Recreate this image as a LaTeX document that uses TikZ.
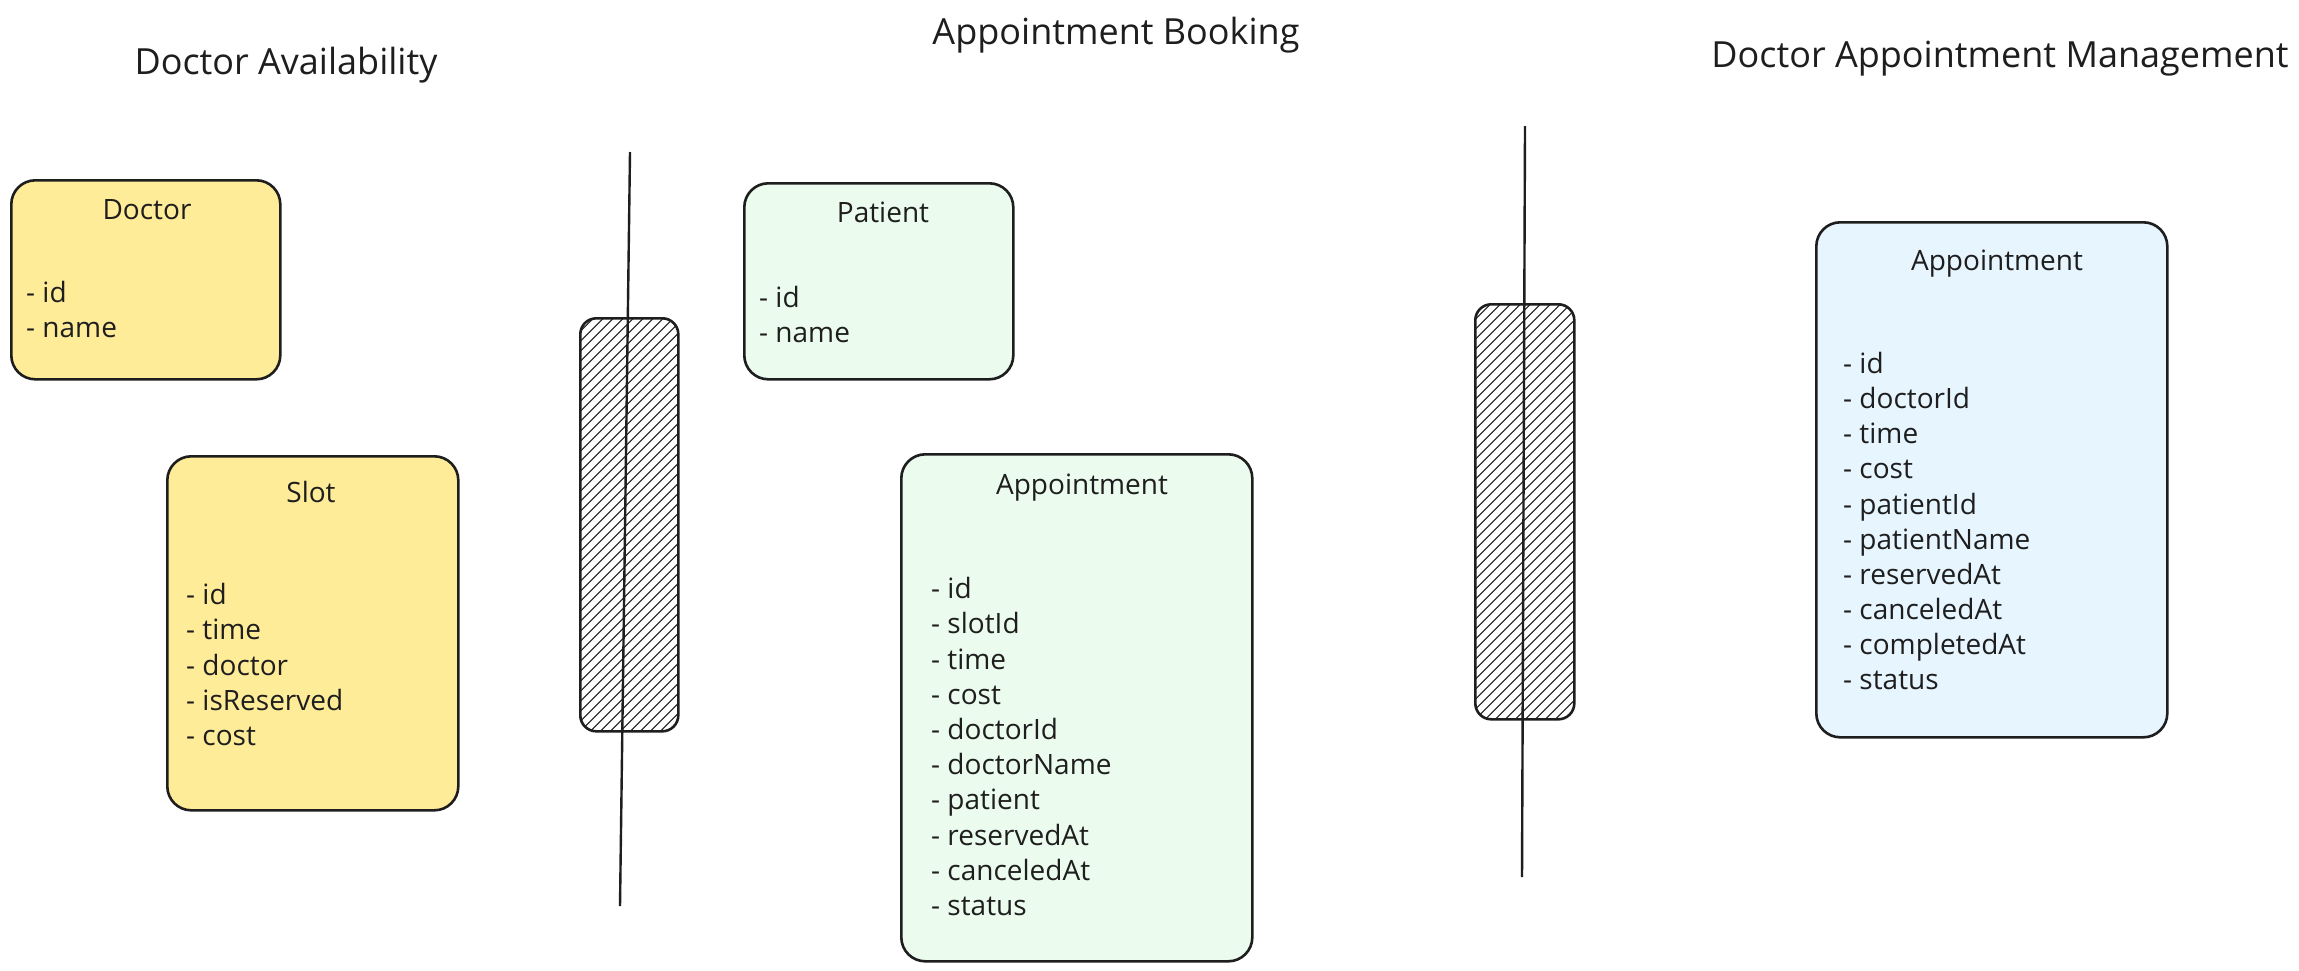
\documentclass[tikz,border=0pt]{standalone}
\usepackage{fontspec}
\setmainfont{Open Sans}
\definecolor{stroke}{HTML}{1E1E1E}
\definecolor{yellowfill}{HTML}{FFEC99}
\definecolor{greenfill}{HTML}{EBFBEE}
\definecolor{bluefill}{HTML}{E7F5FF}
\begin{document}
\begin{tikzpicture}[x=1pt,y=-1pt,
  entity/.style={draw=stroke, line width=2.6pt, rounded corners=24pt, anchor=north west, inner sep=0pt},
  ybox/.style={entity, fill=yellowfill},
  gbox/.style={entity, fill=greenfill},
  bbox/.style={entity, fill=bluefill},
  hatchbox/.style={draw=stroke, line width=2.6pt, rounded corners=16pt, anchor=north west, inner sep=0pt, fill=white,
    path picture={\foreach \k in {0,10,...,540}{\draw[stroke, line width=1.2pt] ([xshift=\k pt-430pt]path picture bounding box.south west) -- ++(440,-440);}}},
  divider/.style={draw=stroke, line width=2.4pt},
  heading/.style={font=\fontsize{36}{40}\selectfont, text=stroke, inner sep=0pt, yshift=-3pt},
  boxtitle/.style={font=\fontsize{28}{34}\selectfont, text=stroke, inner sep=0pt, text height=0.72em, text depth=0.2em, yshift=-7pt},
  item/.style={font=\fontsize{28}{34}\selectfont, text=stroke, inner sep=0pt, anchor=west, text height=0.72em, text depth=0.2em, yshift=-7pt}
]
\useasboundingbox[fill=white] (0,0) rectangle (2299,970);

% headings
\node[heading] (h1) at (286,62) {Doctor Availability};
\node[heading] (h2) at (1116,32) {Appointment Booking};
\node[heading] (h3) at (2000,56) {Doctor Appointment Management};

% hatched separators
\node[hatchbox, minimum width=98pt, minimum height=413pt] (sep1) at (579,317) {};
\node[hatchbox, minimum width=99pt, minimum height=415pt] (sep2) at (1474,303) {};

% Doctor
\node[ybox, minimum width=269pt, minimum height=199pt] (doctor) at (10,179) {};
\node[boxtitle] (doctorT) at (147,210) {Doctor};
\node[item] (d1) at (26,293) {- id};
\node[item] (d2) at (26,328) {- name};

% Slot
\node[ybox, minimum width=291pt, minimum height=354pt] (slot) at (166,455) {};
\node[boxtitle] (slotT) at (311,493) {Slot};
\node[item] (s1) at (186,595) {- id};
\node[item] (s2) at (186,630) {- time};
\node[item] (s3) at (186,666) {- doctor};
\node[item] (s4) at (186,701) {- isReserved};
\node[item] (s5) at (186,736) {- cost};

% Patient
\node[gbox, minimum width=269pt, minimum height=196pt] (patient) at (743,182) {};
\node[boxtitle] (patientT) at (883,213) {Patient};
\node[item] (p1) at (759,298) {- id};
\node[item] (p2) at (759,333) {- name};

% Appointment (booking)
\node[gbox, minimum width=351pt, minimum height=507pt] (appt) at (900,453) {};
\node[boxtitle] (apptT) at (1082,485) {Appointment};
\foreach \t [count=\i from 0] in {id,slotId,time,cost,doctorId,doctorName,patient,reservedAt,canceledAt,status}{
  \node[item] (a\i) at (931,589+35.2*\i) {- \t};
}

% Appointment (management)
\node[bbox, minimum width=351pt, minimum height=515pt] (mgmt) at (1815,221) {};
\node[boxtitle] (mgmtT) at (1997,261) {Appointment};
\foreach \t [count=\i from 0] in {id,doctorId,time,cost,patientId,patientName,reservedAt,canceledAt,completedAt,status}{
  \node[item] (m\i) at (1843,364+35.1*\i) {- \t};
}

% divider lines
\coordinate (l1top) at (630,152);
\coordinate (l1bot) at (620,906);
\coordinate (l2top) at (1525,126);
\coordinate (l2bot) at (1522,877);
\draw[divider] (l1top) -- (l1bot);
\draw[divider] (l2top) -- (l2bot);
\end{tikzpicture}
\end{document}
